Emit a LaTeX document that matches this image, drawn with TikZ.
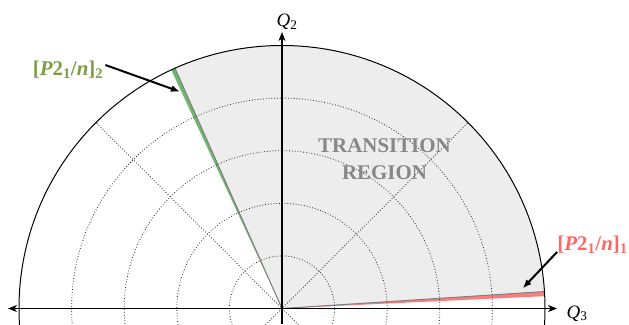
\documentclass[tikz,border=0pt]{standalone}
\usepackage{fontspec}
\setmainfont{Liberation Serif}
\usetikzlibrary{arrows.meta}
\definecolor{regiongray}{HTML}{EDEDED}
\definecolor{wedgegreen}{HTML}{72B472}
\definecolor{labelgreen}{HTML}{7E9B45}
\definecolor{wedgered}{HTML}{FF7B7B}
\definecolor{labelred}{HTML}{FF6666}
\definecolor{textgray}{HTML}{878787}
\tikzset{
  gridline/.style={dotted, line width=0.8pt, black!85},
  axisline/.style={line width=1.1pt, {Stealth[length=9pt,width=7pt,inset=2.5pt]}-{Stealth[length=9pt,width=7pt,inset=2.5pt]}},
  pointer/.style={line width=2pt, -{Latex[length=9pt,width=7pt]}},
  boundary/.style={line width=1pt, gray},
  phaselabel/.style={font=\fontsize{21}{24}\selectfont\bfseries, inner sep=0pt},
  qlabel/.style={font=\fontsize{19}{22}\selectfont, inner sep=0pt}
}
\begin{document}
\begin{tikzpicture}[x=1bp,y=1bp]
\useasboundingbox (-282,-15.5) rectangle (347,308.5);
\begin{scope}
\clip (-282,-15.5) rectangle (347,308.5);
% transition region
\fill[regiongray] (0,0) -- (3.7:263) arc[start angle=3.7,end angle=114.0,radius=263] -- cycle;
% green wedge
\fill[wedgegreen] (0,0) -- (114.0:263) arc[start angle=114.0,end angle=114.9,radius=263] -- cycle;
% red wedge
\fill[wedgered] (0,0) -- (2.7:263) arc[start angle=2.7,end angle=3.7,radius=263] -- cycle;
\draw[boundary] (0,0) -- (114.0:263);
\draw[boundary] (0,0) -- (3.7:263);
% dotted grid
\foreach \r in {52.6,105.2,157.8,210.4} \draw[gridline] (0,0) circle[radius=\r];
\draw[gridline] (225:40) -- (45:263);
\draw[gridline] (315:40) -- (135:263);
% outer circle
\draw[line width=1pt] (0,0) circle[radius=263];
\end{scope}
% axes
\coordinate (o) at (0,0);
\coordinate (xl) at (-274,0);
\coordinate (xr) at (275,0);
\coordinate (yb) at (0,-15.5);
\coordinate (yt) at (0,276.5);
\draw[axisline] (xl) -- (xr);
\draw[line width=1.1pt, -{Stealth[length=9pt,width=7pt,inset=2.5pt]}] (yb) -- (yt);
\node[qlabel] (q2) at (5,286.5) {\textit{Q}\textsubscript{2}};
\node[qlabel] (q3) at (295,-4.8) {\textit{Q}\textsubscript{3}};
% labels
\node[phaselabel, text=labelgreen] (glab) at (-214,238.5) {[\textit{P}2\textsubscript{1}/\textit{n}]\textsubscript{2}};
\node[phaselabel, text=labelred] (rlab) at (310.5,63.5) {[\textit{P}2\textsubscript{1}/\textit{n}]\textsubscript{1}};
\coordinate (gtip) at (-102,216.8);
\coordinate (rtip) at (240.7,20.2);
\draw[pointer] ([shift={(2,5)}]glab.east) -- (gtip);
\draw[pointer] ([shift={(0,-7)}]rlab.west) -- (rtip);
\node[font=\fontsize{21}{26.6}\selectfont\bfseries, text=textgray, align=center] (trans) at (102.5,149.5) {TRANSITION\\REGION};
\end{tikzpicture}
\end{document}
